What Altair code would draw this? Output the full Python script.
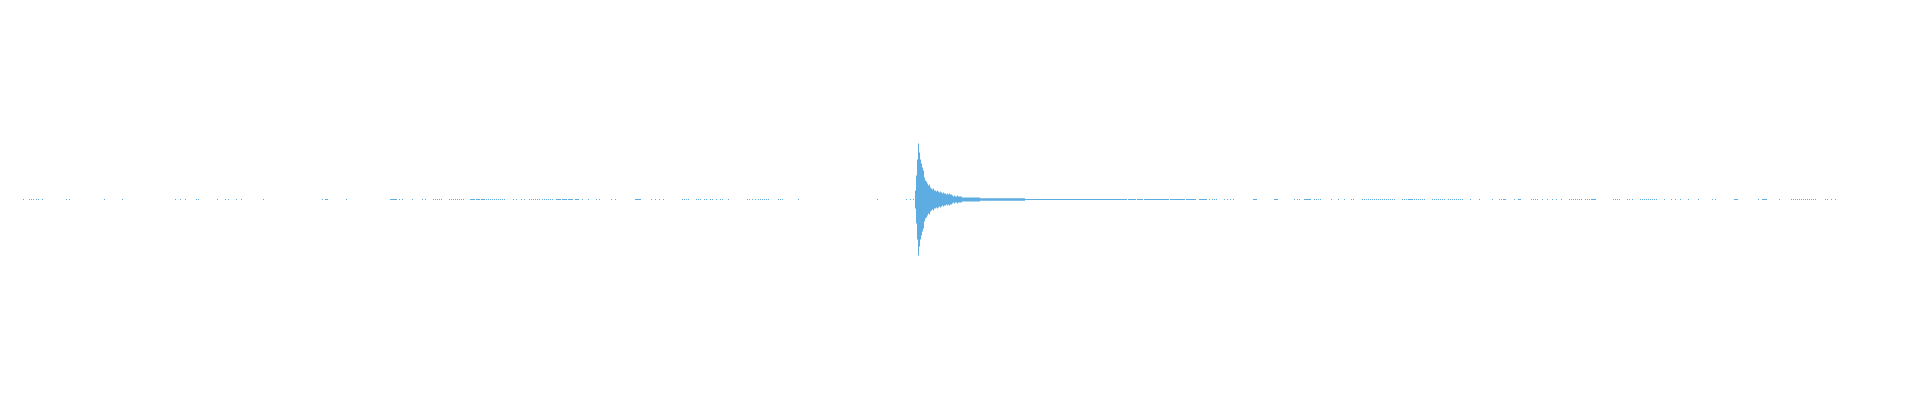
import altair as alt
import pandas as pd

# Sample positions (horizontal sample index) and half-amplitudes
# Spike: first sample index and consecutive half-amplitudes
spike_start = 915
spike_amp = [9, 24, 40, 56, 47, 40, 36, 32, 29, 22, 19, 18, 16, 14, 15, 12, 11, 10, 11,
             9, 9, 8, 9, 8, 7, 8, 7, 6, 7, 6, 6, 5, 6, 5, 6, 5, 5,
             4, 3, 4, 3, 3, 4, 3, 3, 3, 3]

# Decay tail: (start, end, half-amplitude)
tail_start = [962, 980, 1025]
tail_end = [980, 1025, 1121]
tail_amp = [2, 1.3, 0.5]

# Isolated low-level samples
dots = [23, 29, 31, 33, 36, 38, 42, 66, 69, 104, 122, 175, 180, 185, 196, 198, 217, 225,
        228, 236, 241, 263, 322, 346, 399, 402, 412, 422, 425, 433, 435, 437, 439, 441,
        449, 451, 453, 455, 457, 459, 461, 463, 486, 488, 490, 492, 494, 496, 498, 500,
        502, 504, 513, 516, 521, 524, 529, 531, 533, 535, 537, 539, 542, 544, 546, 548,
        550, 552, 582, 588, 596, 599, 611, 615, 651, 655, 659, 663, 682, 684, 686,
        688, 696, 698, 700, 704, 706, 710, 712, 716, 720, 722, 728, 747, 749, 752, 755,
        758, 760, 762, 764, 766, 768, 778, 780, 782, 798, 877, 906, 910, 913,
        1195, 1209, 1212, 1214, 1216, 1224, 1227, 1230, 1233, 1294, 1297, 1299, 1314,
        1316, 1318, 1320, 1331, 1338, 1344, 1351, 1353, 1362, 1364, 1366, 1368, 1370,
        1372, 1374, 1376, 1378, 1380, 1382, 1384, 1386, 1388, 1390, 1392, 1394, 1402,
        1404, 1406, 1414, 1416, 1418, 1420, 1422, 1424, 1432, 1434, 1436, 1438, 1440,
        1442, 1444, 1448, 1450, 1452, 1454, 1456, 1458, 1460, 1462, 1470, 1479, 1492,
        1499, 1501, 1514, 1531, 1533, 1535, 1537, 1542, 1547, 1552, 1556, 1561, 1569,
        1571, 1573, 1575, 1577, 1579, 1581, 1585, 1587, 1589, 1613, 1615, 1617, 1619,
        1627, 1629, 1632, 1640, 1642, 1644, 1646, 1648, 1650, 1652, 1654, 1656, 1664,
        1671, 1675, 1680, 1688, 1698, 1712, 1715, 1758, 1779, 1791, 1793, 1795, 1797,
        1799, 1801, 1803, 1805, 1807, 1809, 1811, 1813, 1815, 1825, 1827, 1831, 1835]

# Short runs of low-level samples: start and end (inclusive)
run_start = [325, 390, 470, 476, 481, 556, 562, 568, 575, 635, 1121, 1128, 1137, 1144,
             1152, 1170, 1186, 1199, 1253, 1274, 1304, 1408, 1503, 1518, 1591, 1734, 1762]
run_end = [327, 396, 474, 479, 484, 560, 566, 572, 578, 640, 1126, 1135, 1142, 1151,
           1168, 1184, 1194, 1206, 1256, 1277, 1310, 1412, 1505, 1520, 1595, 1737, 1766]

dot_amp = 0.5

rows = []
for i, a in enumerate(spike_amp):
    rows.append({"s0": spike_start + i, "s1": spike_start + i + 1, "amp": a})
for s, e, a in zip(tail_start, tail_end, tail_amp):
    rows.append({"s0": s, "s1": e, "amp": a})
for d in dots:
    rows.append({"s0": d, "s1": d + 1, "amp": dot_amp})
for s, e in zip(run_start, run_end):
    rows.append({"s0": s, "s1": e + 1, "amp": dot_amp})

df = pd.DataFrame(rows)

chart = (
    alt.Chart(df)
    .transform_calculate(lo="-datum.amp")
    .mark_rect(color="#5DADE2", strokeWidth=0)
    .encode(
        x=alt.X("s0:Q", axis=None, scale=alt.Scale(domain=[8, 1912], nice=False, zero=False)),
        x2="s1:Q",
        y=alt.Y("lo:Q", axis=None, scale=alt.Scale(domain=[-192.5, 191.5], nice=False, zero=False)),
        y2="amp:Q",
    )
    .properties(width=1904, height=384, autosize=alt.AutoSizeParams(type="none"),
                padding=0, background="white")
    .configure_view(strokeWidth=0)
)

chart.save("out.html", embed_options={"renderer": "svg", "actions": False})
